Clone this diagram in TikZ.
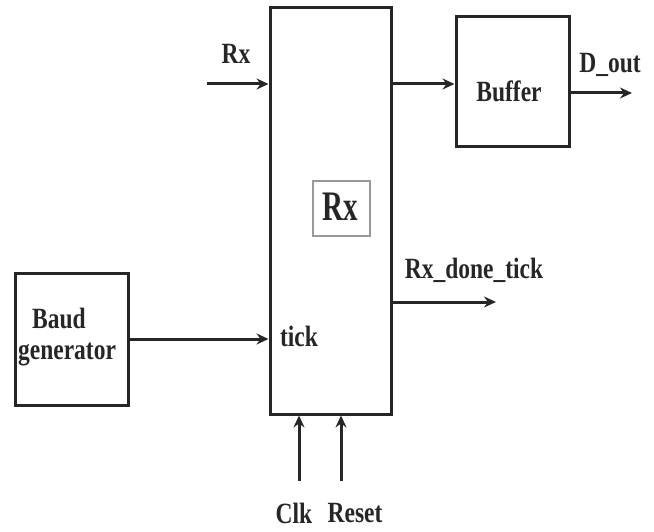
\documentclass[tikz,border=0pt]{standalone}
\usepackage{fontspec}
\setmainfont{Liberation Serif}
\usetikzlibrary{arrows.meta}
\newcommand{\tallt}[1]{\scalebox{1}[1.25]{#1}}
\begin{document}
\begin{tikzpicture}[x=1pt,y=-1pt,
  blk/.style={draw=black!85,line width=3pt,inner sep=0pt},
  lbl/.style={inner sep=0pt,font=\fontsize{23.5}{26}\selectfont\bfseries,text=black!85},
  conn/.style={line width=3pt,draw=black!85,-{Stealth[length=12pt,width=11pt,inset=4pt]}}]
\useasboundingbox (0,0) rectangle (654,532);
% blocks
\node[blk,minimum width=121pt,minimum height=406pt] (rx) at (330.5,211) {};
\node[blk,minimum width=113pt,minimum height=130pt] (buf) at (512.5,82) {};
\node[blk,minimum width=113pt,minimum height=132pt] (baud) at (71.5,339) {};
\node[draw=black!40,line width=1.2pt,minimum width=57pt,minimum height=55pt,inner sep=0pt] (inner) at (341.5,208.5) {};
% texts
\node[lbl,font=\fontsize{29}{32}\selectfont\bfseries] (rxt) at (340,207) {\scalebox{1}[1.45]{Rx}};
\node[lbl] (buft) at (509,91) {\tallt{Buffer}};
\node[lbl] (baudt1) at (59,318) {\tallt{Baud}};
\node[lbl] (baudt2) at (67,354) {\tallt{generator}};
% coordinates
\coordinate (rxin) at (207,84);
\coordinate (dout) at (632,93);
\coordinate (done) at (496,302);
\coordinate (clk) at (299,481);
\coordinate (rst) at (341,481);
% connectors
\draw[conn] (rxin) -- (rxin -| rx.west);
\draw[conn] (rx.east |- rxin) -- (rxin -| buf.west);
\draw[conn] (buf.east |- dout) -- (dout);
\draw[conn] (rx.east |- done) -- (done);
\draw[conn] (baud.east) -- (baud.east -| rx.west);
\draw[conn] (clk) -- (clk |- rx.south);
\draw[conn] (rst) -- (rst |- rx.south);
% labels
\node[lbl] (rxl) at (236,54) {\tallt{Rx}};
\node[lbl] (doutl) at (610,65) {\tallt{D\_out}};
\node[lbl] (donel) at (474,270) {\tallt{Rx\_done\_tick}};
\node[lbl] (tickl) at (299,336) {\tallt{tick}};
\node[lbl] (clkl) at (294,513) {\tallt{Clk}};
\node[lbl] (rstl) at (355,513) {\tallt{Reset}};
\end{tikzpicture}
\end{document}
